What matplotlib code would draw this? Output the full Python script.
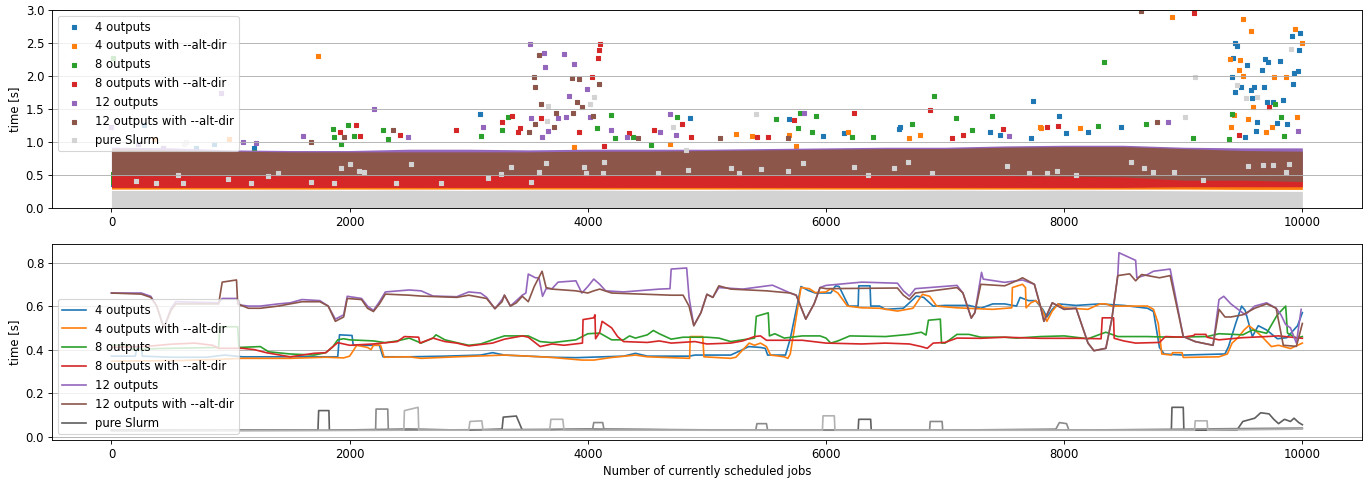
import matplotlib.pyplot as plt

plt.rcParams['font.size'] = 10.5

labels = ['4 outputs', '4 outputs with --alt-dir', '8 outputs', '8 outputs with --alt-dir',
          '12 outputs', '12 outputs with --alt-dir', 'pure Slurm']
colors = ['tab:blue', 'tab:orange', 'tab:green', 'tab:red', 'tab:purple', 'tab:brown', 'lightgray']
slurm_greys = ['#5f5f5f', '#8a8a8a', '#b2b2b2']

# ---- top panel: dense bands of raw timings (every 500 jobs) ----
band_x = [0, 500, 1000, 1500, 2000, 2500, 3000, 3500, 4000, 4500, 5000,
          5500, 6000, 6500, 7000, 7500, 8000, 8500, 9000, 9500, 10000]
band_4_lo = [.32, .32, .32, .32, .32, .32, .32, .32, .32, .32, .32, .32, .32, .32, .32, .32, .32, .32, .32, .32, .32]
band_4_hi = [.45, .45, .45, .45, .45, .45, .45, .45, .45, .45, .45, .45, .45, .45, .45, .45, .45, .45, .45, .45, .45]
band_4a_lo = [.285, .285, .285, .285, .285, .285, .285, .285, .285, .285, .285, .285, .285, .285, .285, .285, .285, .285, .285, .28, .28]
band_4a_hi = [.45, .45, .45, .45, .45, .45, .45, .45, .45, .45, .45, .45, .45, .45, .45, .45, .45, .45, .45, .45, .45]
band_8_lo = [.35, .35, .35, .35, .35, .35, .35, .35, .35, .35, .35, .35, .35, .35, .35, .35, .35, .35, .35, .35, .35]
band_8_hi = [.55, .55, .55, .55, .55, .55, .55, .55, .55, .55, .55, .55, .55, .55, .55, .55, .55, .55, .55, .55, .55]
band_8a_lo = [.31, .31, .31, .31, .31, .31, .31, .31, .31, .31, .31, .31, .31, .31, .31, .31, .31, .31, .32, .32, .32]
band_8a_hi = [.50, .50, .50, .50, .50, .50, .50, .50, .50, .50, .50, .50, .50, .50, .50, .50, .50, .53, .53, .52, .52]
band_12_lo = [.50, .50, .50, .50, .50, .50, .50, .50, .50, .50, .50, .50, .50, .50, .50, .50, .50, .50, .48, .48, .48]
band_12_hi = [.92, .91, .88, .87, .87, .89, .89, .88, .89, .89, .89, .90, .91, .92, .92, .94, .95, .95, .92, .91, .91]
band_12a_lo = [.49, .49, .49, .49, .49, .49, .49, .49, .49, .49, .49, .49, .49, .49, .49, .49, .48, .47, .42, .42, .40]
band_12a_hi = [.90, .88, .86, .85, .85, .85, .85, .85, .86, .86, .87, .88, .89, .90, .90, .92, .93, .93, .90, .87, .86]
band_sl_lo = [0, 0, 0, 0, 0, 0, 0, 0, 0, 0, 0, 0, 0, 0, 0, 0, 0, 0, 0, 0, 0]
band_sl_hi = [.265, .265, .265, .27, .265, .27, .265, .27, .27, .265, .265, .27, .265, .265, .27, .265, .27, .265, .26, .255, .25]

# ---- top panel: single points outside the bands (job, seconds) ----
pts_4 = [(277, 1.26), (713, .91), (864, .97), (1200, .91), (3097, 1.43), (4857, 1.36), (5688, 1.35),
         (5973, 1.09), (6150, 1.14), (6611, 1.20), (6620, 1.23), (7374, 1.15), (7458, 1.11), (7718, 1.06),
         (7735, 1.62), (7953, 1.40), (8012, 1.14), (8196, 1.15), (8481, 1.23), (9413, 1.98), (9421, 2.27),
         (9438, 2.50), (9438, 1.76), (9455, 2.45), (9488, 1.83), (9522, 1.08), (9538, 2.17), (9572, 1.79),
         (9580, 1.67), (9597, 1.83), (9614, 1.17), (9622, 1.30), (9664, 2.09), (9681, 1.83), (9690, 2.26),
         (9706, 1.61), (9715, 2.21), (9757, 1.61), (9790, 1.29), (9815, 2.23), (9841, 1.64), (9874, 1.27),
         (9916, 2.61), (9924, 1.88), (9933, 2.05), (9966, 2.08), (9975, 2.39), (9983, 2.65)]
pts_4a = [(360, 1.04), (990, 1.04), (1737, 2.30), (3884, .93), (4690, .97), (5243, 1.12), (5377, 1.09),
          (5688, 1.11), (5747, .94), (6183, 1.15), (6695, 1.06), (6787, 1.11), (7794, 1.23), (7802, 1.21),
          (8130, 1.21), (8909, 2.89), (9396, 2.26), (9404, 1.23), (9430, 1.41), (9471, 2.09), (9480, 2.24),
          (9505, 2.86), (9505, 2.00), (9547, 1.35), (9572, 2.68), (9589, 1.53), (9698, 1.15), (9748, 1.23),
          (9765, 1.98), (9866, 1.98), (9941, 2.72), (9958, 1.38), (10000, 2.50)]
pts_8 = [(17, 2.27), (1200, .85), (1862, 1.20), (1871, 1.08), (1930, .97), (1988, 1.26), (2038, 1.09),
         (2280, 1.18), (2322, 1.04), (3104, 1.09), (3280, 1.18), (3330, 1.38), (4077, 1.21), (4195, 1.41),
         (4228, 1.06), (4379, 1.08), (4530, .95), (4748, 1.38), (5579, 1.35), (5763, 1.21), (5780, 1.44),
         (5881, 1.15), (5914, 1.40), (6216, 1.07), (6393, 1.08), (6720, 1.27), (6904, 1.70), (7089, 1.36),
         (7223, 1.18), (7391, 1.40), (8280, 1.24), (8331, 2.21), (8683, 1.27), (9085, 1.06), (9388, 1.04),
         (9413, 1.42), (9773, 1.58), (9824, 1.38), (9849, 1.09)]
pts_8a = [(1921, 1.15), (2055, 1.26), (2088, 1.09), (2425, 1.11), (2894, 1.18), (3280, 1.31), (3363, 1.40),
          (3414, 1.15), (3431, 1.21), (3607, 1.37), (3926, 1.15), (4035, 1.99), (4085, 2.27), (4094, 2.39),
          (4102, 2.48), (4136, .94), (4346, 1.14), (4555, 1.18), (4790, 1.27), (4866, 1.08), (5419, 1.08),
          (5512, 1.08), (5730, 1.33), (6233, 1.44), (6871, 1.48), (7055, 1.06), (7148, 1.11), (7483, 1.20),
          (7852, 1.23), (7944, 1.24), (9094, 2.95), (9471, 1.11), (9723, 1.53)]
pts_12 = [(0, 1.23), (226, .97), (436, .91), (923, 1.74), (1107, 1.00), (1216, .99), (1610, 1.09),
          (2206, 1.50), (2490, 1.07), (3120, 1.23), (3515, 2.48), (3523, 1.36), (3616, 1.08), (3633, 2.35),
          (3641, 2.14), (3666, 1.17), (3750, 1.36), (3800, 2.33), (3817, 1.38), (3842, 1.70), (3884, 2.18),
          (3993, 1.80), (4018, 1.38), (4195, 1.18), (4329, 1.08), (4606, 1.15), (4690, 1.42), (4740, 1.11),
          (5814, 1.44), (7533, 1.09), (8876, 1.30), (9966, 1.17)]
pts_12a = [(1678, 1.00), (1955, 1.08), (2364, 1.18), (3507, 1.15), (3548, 1.99), (3557, 1.83), (3557, 1.27),
           (3590, 2.32), (3607, 1.58), (3716, 1.23), (3733, 1.44), (3867, 1.97), (3876, 1.44), (3909, 1.61),
           (3926, 1.95), (3951, 1.53), (4044, 1.39), (4094, 1.88), (4421, 1.06), (5109, 1.06), (5680, 1.06),
           (8641, 2.99), (8783, 1.30)]
pts_sl = [(210, .41), (377, .38), (562, .50), (604, .38), (612, .97), (629, 1.00), (981, .44), (1174, .38),
          (1317, .49), (1401, .53), (1678, .40), (1871, .38), (1930, .60), (2005, .67), (2080, .56),
          (2122, .55), (2391, .38), (2517, .67), (2768, .38), (3163, .45), (3272, .52), (3356, .62),
          (3523, .40), (3590, .55), (3649, .68), (3658, 1.32), (3666, 1.55), (3968, .62), (3985, .53),
          (4018, 1.58), (4052, 1.68), (4127, .53), (4136, .70), (4589, .53), (4715, 1.23), (4824, .88),
          (4840, .58), (5201, .60), (5268, .53), (5411, 1.42), (5453, .59), (5680, .56), (5805, .68),
          (6233, .62), (6350, .50), (6569, .60), (6686, .70), (6888, .53), (7517, .64), (7701, .53),
          (7852, .53), (7936, .56), (8096, .50), (8557, .70), (8674, .60), (8742, .55), (8918, .55),
          (9018, 1.38), (9102, 1.98), (9169, .42), (9455, 1.86), (9530, 1.67), (9547, .64), (9622, 1.68),
          (9673, .65), (9757, .65), (9866, .55), (9891, .67), (9908, 2.41)]

# ---- bottom panel: rolling medians (job, seconds) ----
med_4 = [(0, .37), (200, .37), (215, .41), (250, .41), (260, .37), (500, .365), (800, .365), (950, .375),
         (1100, .367), (1900, .367), (1915, .468), (2020, .465), (2030, .42), (2250, .42), (2280, .367),
         (2500, .367), (2800, .37), (3100, .375), (3200, .386), (3300, .375), (3500, .37), (3700, .365),
         (3900, .363), (4300, .37), (4400, .383), (4500, .37), (4850, .37), (4900, .375), (5200, .375),
         (5300, .40), (5350, .414), (5450, .41), (5490, .406), (5510, .375), (5660, .375), (5700, .45),
         (5790, .69), (5850, .672), (5910, .66), (6040, .66), (6080, .693), (6110, .69), (6190, .60),
         (6270, .60), (6275, .693), (6370, .693), (6376, .60), (6450, .60), (6500, .585), (6650, .59),
         (6700, .615), (6760, .646), (6820, .64), (6900, .60), (7000, .603), (7200, .603), (7300, .59),
         (7400, .61), (7500, .61), (7600, .60), (7630, .64), (7700, .625), (7760, .625), (7820, .585),
         (7855, .55), (7900, .585), (7950, .61), (8100, .603), (8300, .61), (8500, .603), (8700, .59),
         (8750, .575), (8800, .41), (8840, .38), (9000, .375), (9200, .378), (9350, .38), (9380, .414),
         (9440, .52), (9490, .60), (9520, .58), (9580, .46), (9630, .51), (9700, .49), (9790, .45),
         (9870, .455), (9960, .51), (10000, .57)]
med_4a = [(0, .347), (600, .35), (900, .355), (1090, .36), (1500, .36), (1800, .365), (1950, .362),
          (2000, .37), (2060, .42), (2150, .41), (2180, .40), (2200, .42), (2260, .42), (2290, .365),
          (2500, .367), (2600, .36), (2900, .367), (3300, .375), (3500, .37), (3700, .364), (3950, .352),
          (4050, .352), (4200, .364), (4400, .375), (4500, .367), (4855, .36), (4860, .46), (4965, .46),
          (4975, .367), (5200, .36), (5243, .365), (5355, .43), (5400, .42), (5450, .43), (5500, .414),
          (5535, .375), (5650, .367), (5680, .36), (5700, .38), (5790, .685), (5860, .68), (5910, .662),
          (6000, .665), (6040, .68), (6100, .66), (6180, .60), (6300, .592), (6450, .59), (6600, .577),
          (6730, .59), (6810, .654), (6870, .645), (6930, .60), (7100, .592), (7400, .585), (7560, .592),
          (7565, .685), (7650, .70), (7675, .685), (7680, .592), (7720, .615), (7760, .625), (7790, .61),
          (7820, .577), (7855, .53), (7900, .577), (7950, .61), (8000, .592), (8200, .585), (8300, .61),
          (8350, .61), (8400, .60), (8700, .60), (8750, .585), (8790, .52), (8820, .38), (8900, .375),
          (8910, .386), (8990, .386), (9000, .364), (9300, .367), (9370, .38), (9410, .43), (9460, .455),
          (9510, .49), (9550, .51), (9600, .49), (9660, .46), (9740, .414), (9800, .42), (9900, .405),
          (10000, .43)]
med_8 = [(0, .42), (150, .42), (180, .40), (400, .405), (900, .41), (910, .505), (1060, .505), (1070, .41),
         (1250, .414), (1320, .39), (1500, .38), (1700, .375), (1800, .386), (1860, .414), (1900, .445),
         (1950, .45), (2000, .445), (2200, .44), (2300, .432), (2400, .44), (2500, .453), (2600, .43),
         (2700, .453), (2725, .468), (2800, .445), (2900, .432), (3000, .42), (3100, .426), (3200, .445),
         (3300, .463), (3500, .463), (3600, .437), (3700, .432), (3900, .445), (4000, .473), (4100, .476),
         (4200, .445), (4300, .445), (4350, .463), (4400, .453), (4500, .468), (4550, .488), (4600, .473),
         (4700, .448), (4800, .457), (5000, .457), (5100, .453), (5200, .437), (5400, .453), (5415, .553),
         (5515, .569), (5525, .463), (5570, .473), (5650, .453), (5800, .463), (5950, .463), (6000, .453),
         (6040, .43), (6100, .44), (6200, .463), (6500, .46), (6700, .47), (6800, .48), (6840, .467),
         (6860, .535), (6960, .54), (6970, .43), (7000, .43), (7100, .47), (7200, .47), (7300, .457),
         (7500, .457), (7600, .453), (7800, .46), (8000, .463), (8200, .45), (8300, .47), (8350, .48),
         (8450, .46), (8700, .46), (8900, .457), (9200, .46), (9300, .473), (9500, .468), (9580, .49),
         (9700, .475), (9790, .56), (9860, .60), (9875, .476), (9950, .453), (10000, .46)]
med_8a = [(0, .41), (300, .415), (500, .425), (700, .43), (850, .42), (900, .406), (1100, .406), (1200, .40),
          (1300, .386), (1500, .367), (1700, .383), (1800, .386), (1860, .414), (1900, .432), (2000, .42),
          (2200, .426), (2400, .437), (2460, .46), (2580, .457), (2590, .43), (2700, .453), (2800, .437),
          (2900, .43), (3000, .417), (3200, .43), (3300, .448), (3450, .463), (3500, .457), (3600, .414),
          (3700, .426), (3800, .42), (3955, .43), (3960, .538), (4050, .546), (4060, .56), (4065, .45),
          (4100, .48), (4120, .53), (4200, .50), (4250, .46), (4300, .437), (4500, .433), (4600, .44),
          (4700, .43), (4900, .437), (5000, .426), (5200, .43), (5300, .44), (5400, .46), (5450, .463),
          (5500, .443), (5800, .443), (6000, .43), (6300, .426), (6500, .43), (6700, .426), (6800, .414),
          (6850, .406), (6900, .43), (7000, .433), (7100, .453), (7300, .452), (7500, .457), (7800, .452),
          (8100, .452), (8310, .45), (8320, .546), (8415, .546), (8420, .452), (8500, .44), (8600, .43),
          (8800, .433), (8850, .46), (9000, .457), (9090, .465), (9095, .47), (9190, .47), (9200, .457),
          (9300, .445), (9500, .455), (9700, .46), (9800, .463), (10000, .452)]
med_12 = [(0, .66), (250, .66), (330, .645), (380, .60), (440, .50), (500, .59), (540, .62), (900, .615),
          (930, .635), (1050, .635), (1080, .605), (1150, .60), (1250, .60), (1400, .61), (1500, .615),
          (1600, .63), (1750, .625), (1820, .60), (1880, .54), (1950, .56), (1980, .645), (2100, .635),
          (2150, .60), (2200, .58), (2250, .62), (2300, .665), (2500, .674), (2600, .67), (2700, .646),
          (2900, .643), (3000, .665), (3100, .66), (3150, .64), (3220, .588), (3280, .63), (3300, .65),
          (3350, .60), (3400, .625), (3450, .65), (3480, .66), (3500, .747), (3560, .73), (3590, .73),
          (3620, .645), (3650, .68), (3700, .68), (3750, .71), (3900, .716), (3950, .66), (4000, .69),
          (4050, .724), (4100, .70), (4150, .67), (4300, .665), (4600, .678), (4690, .68), (4700, .77),
          (4830, .775), (4850, .64), (4890, .51), (4950, .57), (5000, .654), (5050, .64), (5100, .685),
          (5300, .678), (5550, .696), (5700, .66), (5750, .65), (5830, .54), (5900, .61), (5950, .685),
          (6000, .695), (6300, .71), (6600, .705), (6650, .67), (6700, .646), (6750, .68), (7100, .695),
          (7150, .66), (7220, .545), (7250, .57), (7306, .755), (7320, .724), (7500, .709), (7650, .72),
          (7750, .70), (7800, .60), (7830, .53), (7900, .615), (7950, .60), (8000, .585), (8100, .59),
          (8200, .43), (8250, .395), (8350, .406), (8400, .54), (8450, .74), (8460, .845), (8600, .81),
          (8610, .73), (8700, .745), (8750, .76), (8890, .77), (9000, .46), (9100, .437), (9250, .42),
          (9300, .63), (9340, .645), (9400, .61), (9520, .56), (9600, .60), (9700, .615), (9780, .59),
          (9820, .56), (9860, .515), (9900, .50), (9950, .43), (9990, .585)]
med_12a = [(0, .66), (250, .655), (330, .64), (380, .60), (440, .50), (500, .58), (540, .61), (900, .61),
           (930, .71), (1050, .72), (1060, .61), (1150, .59), (1250, .59), (1400, .60), (1500, .61),
           (1600, .62), (1750, .62), (1820, .60), (1880, .53), (1950, .55), (1980, .635), (2100, .63),
           (2150, .59), (2200, .575), (2250, .61), (2300, .655), (2500, .65), (2600, .646), (2900, .64),
           (3000, .65), (3100, .64), (3150, .635), (3220, .588), (3280, .62), (3300, .65), (3350, .60),
           (3400, .615), (3450, .645), (3500, .62), (3550, .69), (3616, .76), (3650, .685), (3700, .678),
           (3900, .67), (4000, .66), (4050, .67), (4100, .678), (4200, .66), (4700, .65), (4800, .65),
           (4850, .60), (4890, .51), (4950, .57), (5000, .654), (5050, .64), (5100, .693), (5200, .678),
           (5500, .67), (5700, .66), (5750, .65), (5830, .54), (5900, .61), (5950, .685), (6000, .68),
           (6600, .683), (6650, .65), (6700, .63), (6750, .66), (7100, .685), (7150, .66), (7220, .545),
           (7250, .57), (7300, .70), (7500, .693), (7600, .716), (7650, .73), (7750, .70), (7800, .60),
           (7830, .53), (7900, .615), (7950, .60), (8000, .585), (8100, .59), (8200, .43), (8250, .395),
           (8350, .406), (8400, .54), (8450, .74), (8550, .748), (8600, .716), (8650, .745), (8700, .74),
           (8800, .73), (8890, .74), (9000, .46), (9100, .437), (9250, .42), (9300, .585), (9350, .55),
           (9400, .55), (9500, .56), (9600, .59), (9700, .61), (9780, .59), (9840, .42), (9950, .415),
           (10000, .52)]
slurm_a = [(0, .03), (1000, .03), (1734, .03), (1740, .12), (1826, .12), (1830, .03), (2500, .035),
           (3000, .03), (3280, .035), (3290, .09), (3400, .095), (3450, .03), (4000, .035), (5000, .03),
           (6270, .03), (6275, .08), (6375, .08), (6380, .03), (8000, .03), (8900, .03), (8905, .135),
           (9000, .135), (9005, .03), (9450, .03), (9500, .07), (9600, .085), (9650, .11), (9720, .105),
           (9760, .08), (9800, .06), (9850, .08), (9900, .07), (9930, .085), (9970, .065), (10000, .055)]
slurm_b = [(0, .03), (2218, .03), (2222, .127), (2320, .127), (2325, .03), (4040, .035), (4050, .065),
           (4125, .065), (4135, .035), (5410, .03), (5420, .06), (5500, .06), (5510, .03), (6870, .03),
           (6875, .07), (6975, .07), (6980, .03), (7930, .035), (7960, .065), (8020, .06), (8040, .03),
           (10000, .04)]
slurm_c = [(0, .025), (2455, .03), (2460, .12), (2575, .135), (2580, .03), (3000, .03), (3010, .07),
           (3110, .073), (3120, .03), (3680, .03), (3690, .08), (3790, .08), (3800, .03), (5970, .03),
           (5975, .096), (6070, .096), (6075, .03), (9095, .03), (9100, .073), (9200, .073), (9205, .03),
           (10000, .035)]

bands = [(band_4_lo, band_4_hi), (band_4a_lo, band_4a_hi), (band_8_lo, band_8_hi), (band_8a_lo, band_8a_hi),
         (band_12_lo, band_12_hi), (band_12a_lo, band_12a_hi), (band_sl_lo, band_sl_hi)]
points = [pts_4, pts_4a, pts_8, pts_8a, pts_12, pts_12a, pts_sl]
medians = [med_4, med_4a, med_8, med_8a, med_12, med_12a]

fig = plt.figure(figsize=(17.075, 5.9875), dpi=80)
ax1 = fig.add_axes([0.038, 0.566, 0.959, 0.413])
ax2 = fig.add_axes([0.038, 0.081, 0.959, 0.41])

# top: raw timings
for (lo, hi), pts, c, lab in zip(bands, points, colors, labels):
    ax1.fill_between(band_x, lo, hi, color=c, lw=0)
    xs, ys = zip(*pts)
    ax1.scatter(xs, ys, s=12, marker='s', color=c, label=lab)
ax1.set_ylim(0, 3)
ax1.set_ylabel('time [s]')
ax1.grid(axis='y')
ax1.legend(loc='upper left')

# bottom: rolling medians
for med, c, lab in zip(medians, colors, labels):
    xs, ys = zip(*med)
    ax2.plot(xs, ys, color=c, label=lab)
for i, (sl, g) in enumerate(zip([slurm_a, slurm_b, slurm_c], slurm_greys)):
    xs, ys = zip(*sl)
    ax2.plot(xs, ys, color=g, label='pure Slurm' if i == 0 else None)
ax2.set_ylabel('time [s]')
ax2.set_xlabel('Number of currently scheduled jobs')
ax2.grid(axis='y')
ax2.legend(loc='lower left')

plt.savefig('out.png')
